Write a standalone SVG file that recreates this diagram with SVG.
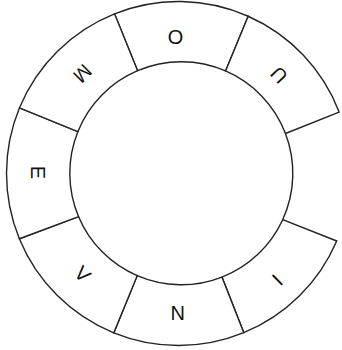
<svg xmlns="http://www.w3.org/2000/svg" width="342" height="350" viewBox="0 0 342 350">
<style>
.seg{fill:#fff;stroke:#222;stroke-width:1.4;stroke-linejoin:miter}
.arc{fill:none;stroke:#222;stroke-width:1.4}
.lbl{font-family:"Liberation Sans",Arial,sans-serif;font-size:20px;fill:#111;text-anchor:middle;dominant-baseline:central}
</style>
<rect width="342" height="350" fill="#fff"/>
<g id="connectors">
<path class="arc" d="M285.46,133.51 A111.5,111.5 0 0 1 282.68,219.72"/>
</g>
<g id="seg-O">
<path class="seg" d="M114.53,13.83 A172,172 0 0 1 248.18,16.24 L225.60,70.98 A111.5,111.5 0 0 0 137.59,70.72 Z"/>
<text class="lbl" transform="translate(175.5,36.5) rotate(180)">O</text>
</g>
<g id="seg-U">
<path class="seg" d="M248.18,16.24 A172,172 0 0 1 339.13,112.03 L285.46,133.51 A111.5,111.5 0 0 0 225.60,70.98 Z"/>
<text class="lbl" transform="translate(279,75) rotate(226.5)">U</text>
</g>
<g id="seg-I">
<path class="seg" d="M336.71,240.98 A172,172 0 0 1 243.77,332.63 L221.99,277.12 A111.5,111.5 0 0 0 282.68,219.72 Z"/>
<text class="lbl" transform="translate(277.4,279.8) rotate(-44.6)">I</text>
</g>
<g id="seg-N">
<path class="seg" d="M243.77,332.63 A172,172 0 0 1 113.79,332.86 L137.20,275.70 A111.5,111.5 0 0 0 221.99,277.12 Z"/>
<text class="lbl" transform="translate(177.7,313)">N</text>
</g>
<g id="seg-V">
<path class="seg" d="M113.79,332.86 A172,172 0 0 1 19.37,238.77 L78.59,216.69 A111.5,111.5 0 0 0 137.20,275.70 Z"/>
<text class="lbl" transform="translate(82.6,274) rotate(45)">V</text>
</g>
<g id="seg-E">
<path class="seg" d="M19.37,238.77 A172,172 0 0 1 19.52,107.81 L77.85,131.71 A111.5,111.5 0 0 0 78.59,216.69 Z"/>
<text class="lbl" transform="translate(37.5,172.5) rotate(90)">E</text>
</g>
<g id="seg-M">
<path class="seg" d="M19.52,107.81 A172,172 0 0 1 114.53,13.83 L137.59,70.72 A111.5,111.5 0 0 0 77.85,131.71 Z"/>
<text class="lbl" transform="translate(82.5,73.5) rotate(135)">M</text>
</g>
</svg>
